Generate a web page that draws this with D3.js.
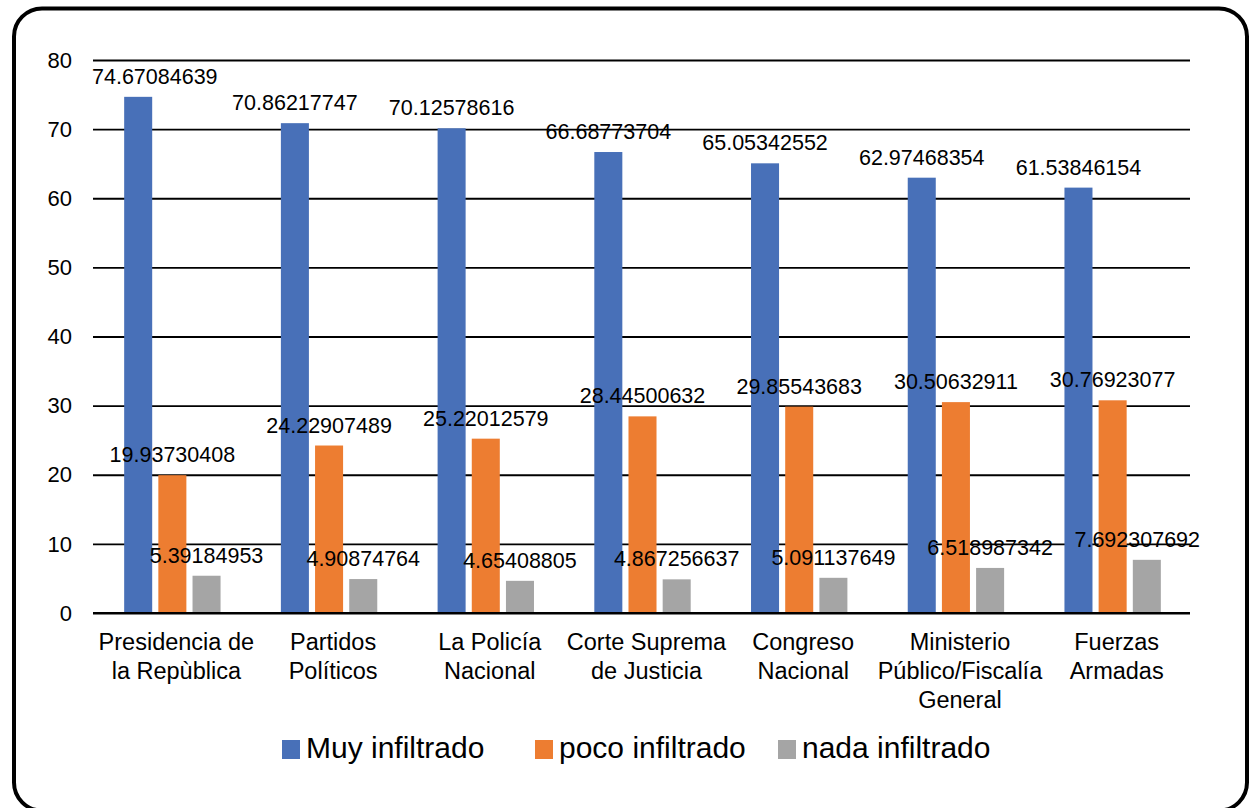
<!DOCTYPE html>
<html>
<head>
<meta charset="utf-8">
<script src="https://d3js.org/d3.v7.min.js"></script>
<style>
  body { margin: 0; background: #fff; }
  svg { font-family: "Liberation Sans", Arial, sans-serif; }
  .grid line { stroke: #000; stroke-width: 1.8; }
  .grid path { display: none; }
  .tick-label { font-size: 22px; fill: #000; }
  .cat { font-size: 23.5px; fill: #000; }
  .val { font-size: 21.5px; fill: #000; }
  .legend text { font-size: 30px; fill: #000; }
</style>
</head>
<body>
<svg id="chart"></svg>
<script>
// data
var categories = [
  "Presidencia de|la Repùblica",
  "Partidos|Políticos",
  "La Policía|Nacional",
  "Corte Suprema|de Justicia",
  "Congreso|Nacional",
  "Ministerio|Público/Fiscalía|General",
  "Fuerzas|Armadas"
];
var seriesNames = ["Muy infiltrado", "poco infiltrado", "nada infiltrado"];
var seriesColors = ["#4870B8", "#ED7D31", "#A5A5A5"];
var muy = [74.67084639, 70.86217747, 70.12578616, 66.68773704, 65.05342552, 62.97468354, 61.53846154];
var poco = [19.93730408, 24.22907489, 25.22012579, 28.44500632, 29.85543683, 30.50632911, 30.76923077];
var nada = [5.39184953, 4.90874764, 4.65408805, 4.867256637, 5.091137649, 6.518987342, 7.692307692];
var valueLabels = [
  ["74.67084639", "70.86217747", "70.12578616", "66.68773704", "65.05342552", "62.97468354", "61.53846154"],
  ["19.93730408", "24.22907489", "25.22012579", "28.44500632", "29.85543683", "30.50632911", "30.76923077"],
  ["5.39184953", "4.90874764", "4.65408805", "4.867256637", "5.091137649", "6.518987342", "7.692307692"]
];
var yTicks = [0, 10, 20, 30, 40, 50, 60, 70, 80];

var W = 1250, H = 808;
var plot = {left: 93, right: 1190, top: 60, bottom: 613};

var svg = d3.select("#chart").attr("width", W).attr("height", H);

// outer frame
svg.append("rect")
  .attr("x", 14).attr("y", 8.5)
  .attr("width", 1233).attr("height", 802)
  .attr("rx", 28).attr("ry", 28)
  .attr("fill", "none").attr("stroke", "#000").attr("stroke-width", 4);

var series = [muy, poco, nada];
var rows = [];
categories.forEach(function(c, i) {
  series.forEach(function(s, j) {
    rows.push({cat: c, key: seriesNames[j], k: j, value: s[i], label: valueLabels[j][i]});
  });
});

var x0 = d3.scaleBand()
  .domain(categories)
  .range([plot.left, plot.right])
  .paddingInner(0.385)
  .paddingOuter(0.1925);

var x1 = d3.scaleBand()
  .domain(seriesNames)
  .range([0, x0.bandwidth()])
  .paddingInner(0.18);

var y = d3.scaleLinear()
  .domain([0, 80])
  .range([plot.bottom, plot.top]);

// gridlines
var yAxis = d3.axisLeft(y)
  .tickValues(yTicks)
  .tickSize(-(plot.right - plot.left))
  .tickFormat("");

svg.append("g")
  .attr("class", "grid")
  .attr("transform", "translate(" + plot.left + ",0)")
  .call(yAxis);

// tick labels
svg.selectAll(".tick-label")
  .data(yTicks)
  .enter().append("text")
  .attr("class", "tick-label")
  .attr("x", plot.left - 21)
  .attr("y", function(d) { return y(d); })
  .attr("dy", "0.35em")
  .attr("text-anchor", "end")
  .text(function(d) { return d; });

// bars
svg.selectAll(".bar")
  .data(rows)
  .enter().append("rect")
  .attr("class", "bar")
  .attr("x", function(d) { return x0(d.cat) + x1(d.key) + 1; })
  .attr("y", function(d) { return y(d.value); })
  .attr("width", x1.bandwidth())
  .attr("height", function(d) { return y(0) - y(d.value); })
  .attr("fill", function(d) { return seriesColors[d.k]; });

// redraw zero line on top
svg.append("line")
  .attr("x1", plot.left).attr("x2", plot.right)
  .attr("y1", y(0)).attr("y2", y(0))
  .attr("stroke", "#000").attr("stroke-width", 1.8);

// value labels, kept inside the plot area like Excel does
svg.selectAll(".val")
  .data(rows)
  .enter().append("text")
  .attr("class", "val")
  .attr("text-anchor", "middle")
  .attr("y", function(d) { return y(d.value) - 13; })
  .text(function(d) { return d.label; })
  .each(function(d) {
    var w = this.getComputedTextLength();
    var cx = x0(d.cat) + x1(d.key) + x1.bandwidth() / 2 + 1;
    cx = Math.max(cx, plot.left - 1 + w / 2);
    cx = Math.min(cx, plot.right + 10 - w / 2);
    d3.select(this).attr("x", cx);
  });

// category labels
var cat = svg.selectAll(".cat")
  .data(categories)
  .enter().append("text")
  .attr("class", "cat")
  .attr("text-anchor", "middle")
  .attr("transform", function(d) { return "translate(" + (x0(d) + x0.bandwidth() / 2 + 5) + ",650)"; });

cat.selectAll("tspan")
  .data(function(d) { return d.split("|"); })
  .enter().append("tspan")
  .attr("x", 0)
  .attr("y", function(d, i) { return i * 29; })
  .text(function(d) { return d; });

// legend
var legendX = [282, 535, 778];
var legend = svg.append("g").attr("class", "legend");
seriesNames.forEach(function(name, i) {
  legend.append("rect")
    .attr("x", legendX[i]).attr("y", 740)
    .attr("width", 18).attr("height", 19)
    .attr("fill", seriesColors[i]);
  legend.append("text")
    .attr("x", legendX[i] + 24).attr("y", 758)
    .text(name);
});
</script>
</body>
</html>
